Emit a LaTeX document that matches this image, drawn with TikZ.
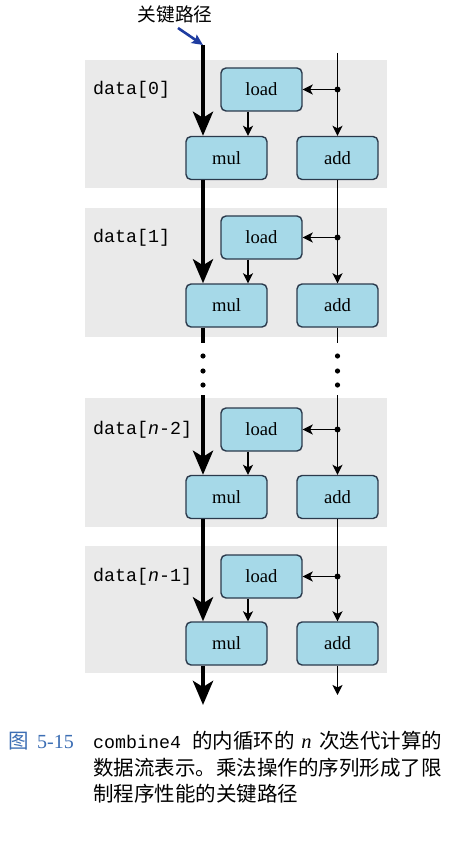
\documentclass[tikz,border=0pt]{standalone}
\usepackage{fontspec}
\setmainfont{Liberation Serif}
\setmonofont{Liberation Mono}
\newfontfamily\cjk{Noto Sans CJK SC}
\usetikzlibrary{arrows.meta}
\definecolor{boxfill}{HTML}{A6D9E8}
\definecolor{boxdraw}{HTML}{2B3A4C}
\definecolor{bandgray}{HTML}{EAEAEA}
\definecolor{capblue}{HTML}{3C6EB4}
\definecolor{pathblue}{HTML}{1E3CA0}
\begin{document}
\begin{tikzpicture}[x=1pt,y=-1pt,
  opbox/.style={draw=boxdraw, line width=1.4pt, fill=boxfill, rounded corners=5pt,
    minimum width=81pt, minimum height=43pt, inner sep=0pt, font=\fontsize{18.6}{20}\selectfont},
  bandbox/.style={fill=bandgray, draw=none},
  crit/.style={line width=4.5pt, -{Stealth[length=24pt,width=20pt,inset=6pt]}},
  critplain/.style={line width=4.5pt},
  thinarrow/.style={line width=1.4pt, -{Stealth[length=10pt,width=10pt,inset=2.5pt]}},
  thinplain/.style={line width=1.4pt},
  datalbl/.style={anchor=west, inner sep=0pt, font=\fontsize{18.3}{20}\ttfamily},
  dotmark/.style={fill=black},
  captxt/.style={anchor=west, inner sep=0pt, font=\fontsize{20.5}{22}\cjk}]
\useasboundingbox (0,0) rectangle (454,842);
\fill[white] (0,0) rectangle (454,842);

% bands, boxes, labels
\foreach \i/\L/\M/\bt/\bb/\txt in {1/89.5/158/60/188/0, 2/237.5/305.5/208/337/1,
    3/429.5/497/398/527/{\textit{n}-2}, 4/576.5/643.5/546/673/{\textit{n}-1}}{
  \fill[bandbox] (85,\bt) rectangle (387,\bb);
  \node[opbox] (load\i) at (261.5,\L) {load};
  \node[opbox] (mul\i) at (226.5,\M) {mul};
  \node[opbox] (add\i) at (337.5,\M) {add};
  \node[datalbl] (data\i) at (93,\L) {data[\txt]};
}

% reference coordinates
\coordinate (cx) at (203,0);
\coordinate (rx) at (337.5,0);
\coordinate (lx) at (248,0);
\coordinate (ctop) at (203,45);
\coordinate (cbrk1) at (203,343);
\coordinate (cbrk2) at (203,395);
\coordinate (cend) at (203,705);
\coordinate (rtop) at (337.5,53);
\coordinate (rbrk1) at (337.5,343);
\coordinate (rbrk2) at (337.5,395);
\coordinate (rend) at (337.5,695);
\coordinate (bstart) at (178,28);

% critical path
\draw[crit] (ctop) -- (mul1.north -| cx);
\draw[crit] (mul1.south -| cx) -- (mul2.north -| cx);
\draw[critplain] (mul2.south -| cx) -- (cbrk1);
\draw[crit] (cbrk2) -- (mul3.north -| cx);
\draw[crit] (mul3.south -| cx) -- (mul4.north -| cx);
\draw[crit] (mul4.south -| cx) -- (cend);

% right chain
\draw[thinarrow] (rtop) -- (add1.north);
\draw[thinarrow] (add1.south) -- (add2.north);
\draw[thinplain] (add2.south) -- (rbrk1);
\draw[thinarrow] (rbrk2) -- (add3.north);
\draw[thinarrow] (add3.south) -- (add4.north);
\draw[thinarrow] (add4.south) -- (rend);

% load branches
\foreach \i in {1,2,3,4}{
  \draw[thinarrow] (load\i.east -| rx) -- (load\i.east);
  \fill[dotmark] (load\i.east -| rx) circle[radius=3pt];
  \draw[thinarrow] (load\i.south -| lx) -- (mul\i.north -| lx);
}

% ellipsis dots
\foreach \y in {356,371,385}{
  \fill[dotmark] (203,\y) circle[radius=2.6pt];
  \fill[dotmark] (337.5,\y) circle[radius=2.6pt];
}

% title and blue arrow
\node[inner sep=0pt, font=\fontsize{18.7}{20}\cjk] (title) at (175,14) {关键路径};
\draw[pathblue, line width=2.6pt, -{Stealth[length=11pt,width=10pt,inset=2pt]}] (bstart) -- (ctop);

% caption
\node[anchor=west, inner sep=0pt, text=capblue, font=\fontsize{20.5}{22}\cjk] (fig) at (8,741) {图};
\node[anchor=west, inner sep=0pt, text=capblue, font=\fontsize{20}{22}\rmfamily] (fignum) at (37,742) {5-15};
\node[anchor=west, inner sep=0pt] (cap1) at (93,741)
  {\makebox[349pt][s]{\fontsize{18.3}{22}\ttfamily combine4 \fontsize{20.5}{22}\cjk 的内循环的 \rmfamily\itshape n \cjk\upshape 次迭代计算的}};
\node[captxt] (cap2) at (93,768) {数据流表示。乘法操作的序列形成了限};
\node[captxt] (cap3) at (93,794) {制程序性能的关键路径};
\end{tikzpicture}
\end{document}
